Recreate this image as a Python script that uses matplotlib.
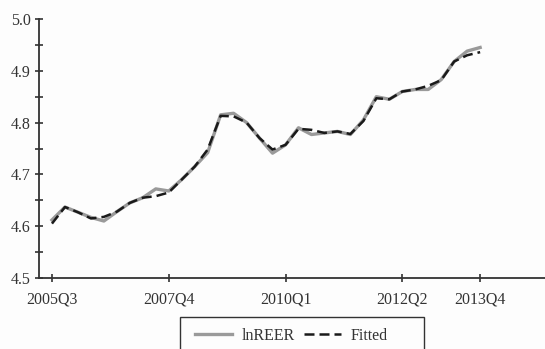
import numpy as np
import matplotlib
matplotlib.use("Agg")
import matplotlib.pyplot as plt
from matplotlib.patches import Rectangle
from matplotlib.ticker import MultipleLocator

# Quarterly log real effective exchange rate and the model fit, 2005Q3-2013Q4
quarters = [f"{y}Q{q}" for y in range(2005, 2014) for q in range(1, 5)][2:]
ln_reer = [4.612, 4.637, 4.627, 4.617, 4.610, 4.628, 4.645, 4.655, 4.672,
           4.668, 4.690, 4.715, 4.742, 4.815, 4.818, 4.800, 4.770, 4.741,
           4.757, 4.790, 4.777, 4.780, 4.783, 4.777, 4.805, 4.850, 4.845,
           4.860, 4.864, 4.864, 4.883, 4.918, 4.938, 4.945]
fitted = [4.605, 4.637, 4.627, 4.615, 4.618, 4.628, 4.645, 4.655, 4.658,
          4.665, 4.690, 4.715, 4.748, 4.813, 4.812, 4.800, 4.770, 4.748,
          4.757, 4.788, 4.786, 4.780, 4.783, 4.778, 4.803, 4.847, 4.845,
          4.860, 4.864, 4.871, 4.882, 4.918, 4.930, 4.936]
tick_labels = ["2005Q3", "2007Q4", "2010Q1", "2012Q2", "2013Q4"]

plt.rcParams["font.family"] = ["Liberation Serif", "DejaVu Serif"]

x = np.arange(len(quarters))
W, H = 545, 349
fig = plt.figure(figsize=(W / 100, H / 100), dpi=100, facecolor="#fdfdfd")
ax = fig.add_axes([39 / W, 1 - 278 / H, 1 - 39 / W, (278 - 19) / H])
ax.set_facecolor("#fdfdfd")

ax.plot(x, ln_reer, color="#9a9a9a", lw=2.4, label="lnREER", zorder=2)
ax.plot(x, fitted, color="#1a1a1a", lw=1.8, ls=(0, (4, 2)),
        label="Fitted", zorder=3)

ax.set_xlim(-1, 38)
ax.set_ylim(4.5, 5.0)
ax.set_xticks([quarters.index(t) for t in tick_labels])
ax.set_xticklabels(tick_labels)
ax.yaxis.set_major_locator(MultipleLocator(0.1))
ax.yaxis.set_minor_locator(MultipleLocator(0.05))
ax.yaxis.set_major_formatter(matplotlib.ticker.FormatStrFormatter("%.1f"))

for side in ("top", "right"):
    ax.spines[side].set_visible(False)
for side in ("left", "bottom"):
    ax.spines[side].set_color("#333333")
    ax.spines[side].set_linewidth(1.3)
ax.tick_params(axis="both", which="both", direction="inout", color="#333333",
               width=1.2, labelsize=11.5, labelcolor="#333333")
ax.tick_params(axis="y", which="major", length=6, pad=3)
ax.tick_params(axis="y", which="minor", length=6)
ax.tick_params(axis="x", which="major", length=6, pad=7)

# legend entries without their own frame; the box below runs off the bottom edge
leg = fig.legend(loc="center left", bbox_to_anchor=(195 / W, 1 - 336 / H),
                 ncol=2, frameon=False, fontsize=11.5,
                 handlelength=2.3, columnspacing=0.6, handletextpad=0.6,
                 borderpad=0.0, borderaxespad=0)
for t in leg.get_texts():
    t.set_color("#333333")
fig.patches.append(Rectangle((180 / W, 1 - 356 / H), 244 / W, 39 / H,
                             transform=fig.transFigure, fill=False,
                             edgecolor="#333333", lw=1.0))

fig.savefig("out.png", dpi=100, facecolor=fig.get_facecolor())
